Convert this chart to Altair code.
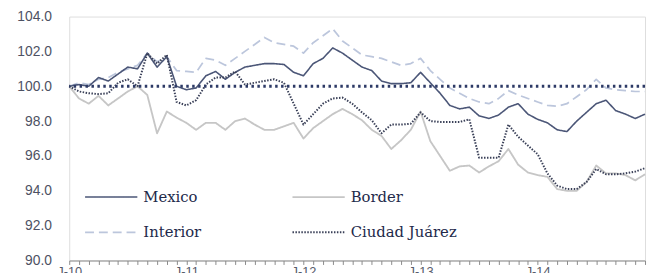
import altair as alt
import pandas as pd

months = list(range(60))
tick_labels = ["J-10", "J-11", "J-12", "J-13", "J-14"]
y_ticks = [90, 92, 94, 96, 98, 100, 102, 104]
series_names = ["Mexico", "Border", "Interior", "Ciudad Juárez"]
# legend grid fills column by column, so list entries column-wise
legend_order = ["Mexico", "Interior", "Border", "Ciudad Juárez"]

mexico = [100.0, 100.1, 100.0, 100.5, 100.3, 100.7, 101.1, 101.0, 101.9, 101.1,
          101.7, 100.0, 99.8, 99.9, 100.6, 100.85, 100.4, 100.8, 101.1, 101.2,
          101.3, 101.3, 101.25, 100.8, 100.6, 101.3, 101.6, 102.2, 101.9, 101.5,
          101.1, 100.9, 100.3, 100.15, 100.15, 100.2, 100.8, 100.2, 99.6, 98.9,
          98.7, 98.8, 98.3, 98.15, 98.35, 98.8, 99.0, 98.4, 98.1, 97.9,
          97.5, 97.4, 98.0, 98.5, 99.0, 99.2, 98.6, 98.4, 98.15, 98.4]

border = [100.0, 99.3, 99.0, 99.45, 98.9, 99.3, 99.7, 100.0, 99.5, 97.3,
          98.55, 98.2, 97.9, 97.5, 97.9, 97.9, 97.5, 98.0, 98.15, 97.8,
          97.5, 97.5, 97.7, 97.9, 97.0, 97.6, 98.0, 98.4, 98.7, 98.4,
          98.05, 97.5, 97.15, 96.4, 96.9, 97.5, 98.55, 96.85, 96.0, 95.15,
          95.4, 95.45, 95.05, 95.4, 95.7, 96.4, 95.5, 95.05, 94.9, 94.8,
          94.1, 94.0, 94.0, 94.5, 95.45, 95.0, 95.0, 94.9, 94.6, 94.95]

interior = [100.0, 100.2, 100.1, 100.4, 100.5, 100.8, 101.0, 101.2, 101.9, 101.4,
            101.7, 100.9, 100.85, 100.8, 101.6, 101.5, 101.2, 101.6, 102.0, 102.4,
            102.8, 102.5, 102.4, 102.3, 101.9, 102.5, 102.9, 103.3, 102.6, 102.2,
            101.8, 101.7, 101.6, 101.4, 101.2, 101.3, 101.6, 100.9, 100.4, 99.9,
            99.6, 99.3, 99.1, 99.0, 99.3, 99.75, 99.5, 99.3, 99.1, 98.9,
            98.85, 99.0, 99.4, 99.8, 100.4, 99.9, 99.8, 99.75, 99.7, 99.7]

juarez = [100.0, 99.7, 99.6, 99.55, 99.6, 100.2, 100.4, 100.0, 101.9, 101.3,
          101.8, 99.1, 98.9, 99.2, 100.1, 100.5, 100.5, 100.85, 100.1, 100.2,
          100.3, 100.4, 100.2, 99.0, 97.8, 98.4, 99.0, 99.3, 99.35, 99.0,
          98.5, 98.05, 97.3, 97.8, 97.8, 97.85, 98.5, 98.0, 97.95, 97.95,
          97.95, 98.1, 95.9, 95.9, 95.9, 97.8, 97.1, 96.6, 96.1, 95.0,
          94.3, 94.1, 94.1, 94.5, 95.25, 94.95, 94.95, 95.0, 95.1, 95.3]

reference_value = [100.0]

series_values = {"Mexico": mexico, "Border": border, "Interior": interior, "Ciudad Juárez": juarez}
# draw order: light series first, dark on top
draw_order = ["Border", "Interior", "Mexico", "Ciudad Juárez"]
rows = []
for name in draw_order:
    for m, v in zip(months, series_values[name]):
        rows.append({"month": m, "series": name, "value": v})
df = pd.DataFrame(rows)

label_expr = "datum.value % 12 == 0 ? " + str(tick_labels) + "[floor(datum.value / 12)] : ''"

color_range = {"Mexico": "#4b5677", "Border": "#c6c6c6", "Interior": "#bcc6dc", "Ciudad Juárez": "#3a4058"}
dash_range = {"Mexico": [1, 0], "Border": [1, 0], "Interior": [9, 5], "Ciudad Juárez": [1.5, 1.5]}
width_range = {"Mexico": 1.6, "Border": 2.0, "Interior": 2.0, "Ciudad Juárez": 1.4}

legend = alt.Legend(title=None, orient="none", legendX=15, legendY=155,
                    columns=2, columnPadding=88, rowPadding=-11,
                    symbolType="stroke", symbolSize=2800,
                    symbolStrokeWidth=1.4, labelFont="DejaVu Serif",
                    labelFontSize=15, labelColor="#22294a", labelOffset=5)

y_axis = alt.Axis(values=y_ticks, format=".1f", ticks=False,
                  domain=False, grid=False, labelPadding=18, labelFontSize=14,
                  labelOverlap=False, labelColor="#4d5163", title=None)

lines = alt.Chart(df).mark_line(strokeJoin="round").encode(
    x=alt.X("month:Q", scale=alt.Scale(domain=[0, 59], nice=False, zero=False),
            axis=alt.Axis(values=months, labelExpr=label_expr, tickSize=4, tickColor="#8a8a8a",
                          domainColor="#8a8a8a", grid=False, title=None, labelFontSize=13,
                          labelPadding=1, labelOverlap=False, labelFlush=False,
                          labelColor="#555a6a")),
    y=alt.Y("value:Q", scale=alt.Scale(domain=[90, 104], nice=False, zero=False), axis=y_axis),
    color=alt.Color("series:N",
                    scale=alt.Scale(domain=legend_order,
                                    range=[color_range[s] for s in legend_order]),
                    legend=legend),
    strokeDash=alt.StrokeDash("series:N",
                              scale=alt.Scale(domain=legend_order,
                                              range=[dash_range[s] for s in legend_order]),
                              legend=legend),
    strokeWidth=alt.StrokeWidth("series:N",
                                scale=alt.Scale(domain=legend_order,
                                                range=[width_range[s] for s in legend_order]),
                                legend=None),
    detail=alt.Detail("series:N"),
)

rule = alt.Chart(pd.DataFrame({"value": reference_value})).mark_rule(
    strokeDash=[2.5, 3.5], strokeWidth=3, color="#2d3a66"
).encode(y=alt.Y("value:Q", axis=y_axis))

chart = alt.layer(lines, rule).properties(
    width=583, height=247,
    padding={"left": 62, "top": 7, "right": 2, "bottom": 12},
    autosize=alt.AutoSizeParams(type="none"),
).configure_view(stroke=None).configure_axis(
    labelFont="DejaVu Serif"
).configure_axisY(labelOverlap=False).configure(background="white")

chart.save("out.html", embed_options={"renderer": "svg", "actions": False})
